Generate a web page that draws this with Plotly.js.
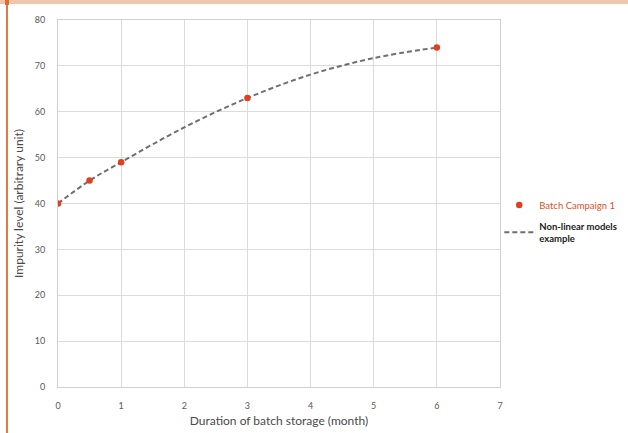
<!DOCTYPE html>
<html><head><meta charset="utf-8">
<script src="https://cdn.plot.ly/plotly-3.0.1.min.js"></script>
<style>
html,body{margin:0;padding:0;background:#fff;}
#wrap{position:relative;width:628px;height:433px;overflow:hidden;}
#chart{position:absolute;left:0;top:0;width:628px;height:433px;}
.topband{position:absolute;left:0;top:0;width:628px;height:4px;background:#eec6ac;}
.leftbar{position:absolute;left:6px;top:0;width:2px;height:433px;background:#e07a45;}
.corner{position:absolute;left:5px;top:0;width:4px;height:5px;background:#e06a30;}
</style></head>
<body><div id="wrap"><div id="chart"></div><div class="topband"></div><div class="leftbar"></div><div class="corner"></div></div>
<script>
// Observed data (Batch Campaign 1)
const monthsObs = [0, 0.5, 1, 3, 6];
const impurityObs = [40, 45, 49, 63, 74];
// Non-linear model curve
const monthsModel = [0, 0.5, 1, 2, 3, 4, 5, 6];
const impurityModel = [40, 45, 49, 56.6, 63, 68.1, 71.7, 74];
const xTicks = [0, 1, 2, 3, 4, 5, 6, 7];
const yTicks = [0, 10, 20, 30, 40, 50, 60, 70, 80];

const font = 'Lato, "Liberation Sans", sans-serif';
const traces = [
  {x: monthsModel, y: impurityModel, mode: 'lines', type: 'scatter',
   line: {color: '#6f6f6f', width: 2, dash: '5px,3px', shape: 'spline'},
   name: '<b>Non-linear models<br>example</b>', legendgroup: 'b', legendrank: 2, hoverinfo: 'skip'},
  {x: monthsObs, y: impurityObs, mode: 'markers', type: 'scatter',
   marker: {color: '#e0401f', size: 6.5},
   name: 'Batch Campaign 1', legendgroup: 'a', legendrank: 1}
];
const layout = {
  width: 628, height: 433,
  margin: {l: 58, r: 128, t: 20, b: 46, autoexpand: false},
  paper_bgcolor: '#fff', plot_bgcolor: '#fff',
  font: {family: font, color: '#595959', size: 9},
  showlegend: true,
  legend: {xref: 'container', yref: 'container', x: 0.795, xanchor: 'left', y: 0.56, yanchor: 'top', itemwidth: 30,
           tracegroupgap: 4, font: {size: 9.5, color: '#222'}, bgcolor: 'rgba(0,0,0,0)'},
  xaxis: {range: [0, 7], tickvals: xTicks, ticktext: xTicks.map(String),
          showgrid: true, gridcolor: '#dcdcdc', gridwidth: 1,
          showline: true, linecolor: '#d0d0d0', mirror: true, zeroline: false,
          ticks: 'outside', ticklen: 10, tickcolor: 'rgba(0,0,0,0)', tickfont: {size: 9, color: '#595959'},
          title: {text: 'Duration of batch storage (month)', font: {size: 12, color: '#4a4a4a'}, standoff: 6}},
  yaxis: {range: [0, 80], tickvals: yTicks, ticktext: yTicks.map(String),
          showgrid: true, gridcolor: '#dcdcdc', gridwidth: 1,
          showline: true, linecolor: '#d0d0d0', mirror: true, zeroline: false,
          ticks: 'outside', ticklen: 10, tickcolor: 'rgba(0,0,0,0)', tickfont: {size: 9, color: '#595959'},
          title: {text: 'Impurity level (arbitrary unit)', font: {size: 12, color: '#4a4a4a'}, standoff: 8}}
};
Plotly.newPlot('chart', traces, layout, {displayModeBar: false, staticPlot: true}).then(function(){
  document.querySelectorAll('.legendtext').forEach(function(t){
    if (t.textContent.indexOf('Batch') === 0) t.style.fill = '#e0501f';
  });
});
</script></body></html>
